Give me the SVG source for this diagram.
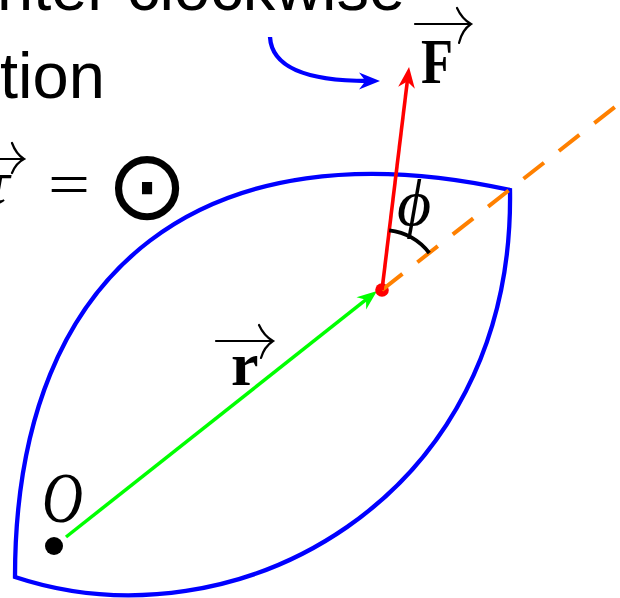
<svg xmlns="http://www.w3.org/2000/svg" width="620" height="598" viewBox="0 0 620 598">
  <style>
    .sans { font-family: "Liberation Sans", Arial, sans-serif; fill: #000; }
    .serif { font-family: "Liberation Serif", "DejaVu Serif", serif; fill: #000; }
    .math-b { font-family: "Liberation Serif", "DejaVu Serif", serif; font-weight: bold; fill: #000; }
    .oarrow { fill: none; stroke: #000; stroke-width: 2.2; stroke-linecap: round; }
    .conn { fill: none; }
  </style>
  <defs>
    <marker id="ah-red" markerUnits="userSpaceOnUse" viewBox="-22 -10 24 20" markerWidth="24" markerHeight="20" refX="-12" refY="0" orient="auto" overflow="visible">
      <path d="M0,0 L-21,-8.4 L-14.5,0 L-21,8.4 Z" fill="#ff0000"/>
    </marker>
    <marker id="ah-green" markerUnits="userSpaceOnUse" viewBox="-22 -10 24 20" markerWidth="24" markerHeight="20" refX="-12" refY="0" orient="auto" overflow="visible">
      <path d="M0,0 L-20,-7.8 L-14,0 L-20,7.8 Z" fill="#00ff00"/>
    </marker>
    <marker id="ah-blue" markerUnits="userSpaceOnUse" viewBox="-22 -10 24 20" markerWidth="24" markerHeight="20" refX="-12" refY="0" orient="auto" overflow="visible">
      <path d="M0,0 L-21,-8.4 L-14.5,0 L-21,8.4 Z" fill="#0000ff"/>
    </marker>
  </defs>

  <!-- caption text (cropped) -->
  <g id="caption">
    <text class="sans" x="-3" y="10" font-size="65">nter clockwise</text>
    <text class="sans" x="0" y="97.5" font-size="65">tion</text>
  </g>

  <g id="torque-eq">
    <text class="serif" x="10" y="203" font-size="62" font-style="italic" font-weight="bold" text-anchor="end">τ</text>
    <path class="oarrow" d="M-2,159 L23,159 M12,143 Q16,154 24,159 Q16,163 12,173"/>
    <text class="serif" x="48" y="204.5" font-size="62" textLength="42" lengthAdjust="spacingAndGlyphs">=</text>
    <text x="147" y="219" font-size="98" text-anchor="middle" style="font-family: 'DejaVu Sans', sans-serif; fill:#000">⊙</text>
  </g>

  <!-- lens-shaped body -->
  <g id="body">
    <path d="M15,577 C15,262 210,124 510,190 C515,500 235,650 15,577 Z" fill="none" stroke="#0000ff" stroke-width="4.3" stroke-linejoin="miter"/>
  </g>

  <g id="connectors">
    <path id="r-vector" class="conn" d="M66,537 L367.6,298.4" stroke="#00ff00" stroke-width="3.5" marker-end="url(#ah-green)"/>
    <circle id="point-P" cx="382" cy="290" r="6.8" fill="#ff0000"/>
    <path id="line-of-r" class="conn" d="M382,290 L620,103" stroke="#ff8000" stroke-width="4" stroke-dasharray="26 19"/>
    <path id="F-vector" class="conn" d="M382,290 L407.6,78.9" stroke="#ff0000" stroke-width="3.6" marker-end="url(#ah-red)"/>
    <path id="phi-arc" class="conn" d="M389.2,230.4 A60,60 0 0 1 429.3,253" stroke="#000" stroke-width="3.8"/>
    <path id="rotation-arrow" class="conn" d="M270,37 C272,72 318,81 368,81" stroke="#0000ff" stroke-width="4.3" marker-end="url(#ah-blue)"/>
  </g>

  <g id="origin">
    <circle cx="54" cy="546" r="9" fill="#000"/>
    <text class="serif" x="42" y="522" font-size="72" font-style="italic" textLength="41" lengthAdjust="spacingAndGlyphs">O</text>
  </g>

  <g id="label-F">
    <text class="math-b" x="421" y="83" font-size="64" textLength="32" lengthAdjust="spacingAndGlyphs">F</text>
    <path class="oarrow" d="M415,24 L470,24 M457,8 Q462,19 471,24 Q462,30 459,43"/>
  </g>

  <g id="label-r">
    <text class="math-b" x="231" y="385" font-size="62">r</text>
    <path class="oarrow" d="M216,341 L272,341 M259,325 Q264,336 273,341 Q264,347 261,358"/>
  </g>

  <g id="label-phi">
    <text class="serif" x="414" y="225" font-size="66" font-style="italic" text-anchor="middle">ϕ</text>
  </g>
</svg>
